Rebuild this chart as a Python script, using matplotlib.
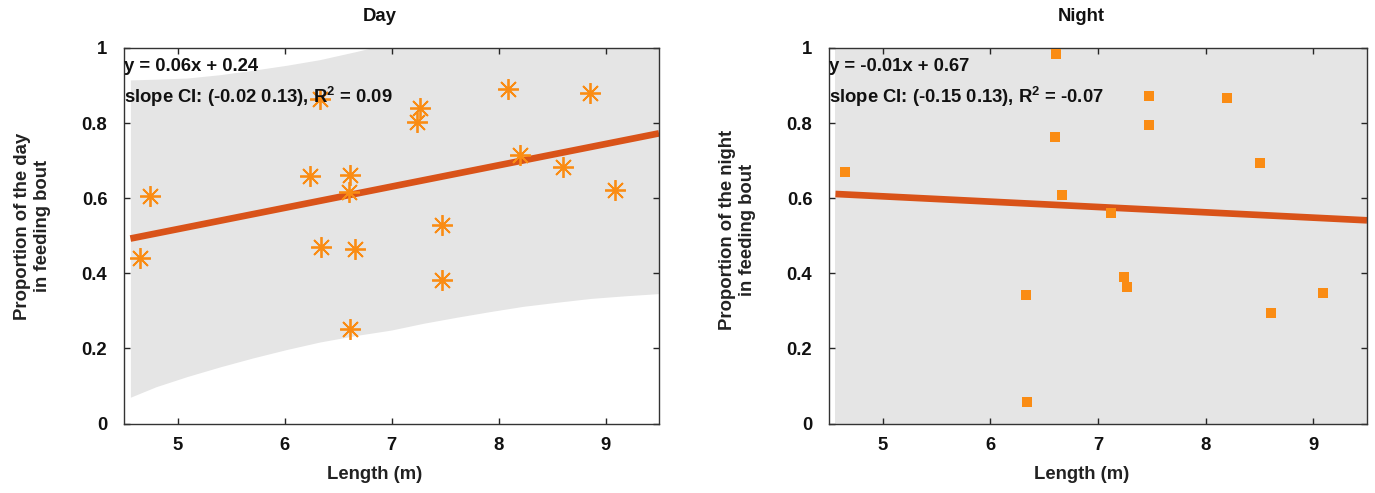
import matplotlib
matplotlib.use("Agg")
import matplotlib.pyplot as plt
import numpy as np

# ---------------- data ----------------
day_len = [4.645, 4.746, 6.236, 6.338, 6.330, 6.609, 6.601, 6.609, 6.662,
           7.240, 7.269, 7.471, 7.471, 8.091, 8.200, 8.606, 8.856, 9.091]
day_prop = [0.442, 0.607, 0.659, 0.471, 0.864, 0.663, 0.617, 0.251, 0.465,
            0.804, 0.839, 0.529, 0.382, 0.891, 0.716, 0.683, 0.880, 0.621]

night_len = [4.652, 6.611, 6.603, 6.664, 7.119, 6.334, 6.343, 7.243, 7.266,
             7.473, 7.473, 8.201, 8.506, 8.607, 9.091]
night_prop = [0.669, 0.985, 0.762, 0.608, 0.560, 0.343, 0.058, 0.390, 0.363,
              0.872, 0.795, 0.868, 0.694, 0.293, 0.348]

# fitted lines (slope, intercept) as drawn
day_fit = (0.0567, 0.234)
night_fit = (-0.0142, 0.676)

# confidence band edges
day_band_x = [4.56, 4.80, 5.09, 5.40, 5.71, 6.02, 6.33, 6.66, 7.00, 7.30,
              7.61, 7.92, 8.23, 8.55, 8.86, 9.18, 9.50]
day_band_lo = [0.070, 0.098, 0.125, 0.151, 0.175, 0.197, 0.217, 0.234, 0.249,
               0.267, 0.283, 0.298, 0.312, 0.323, 0.333, 0.340, 0.346]
day_band_hi = [0.915, 0.917, 0.920, 0.929, 0.941, 0.954, 0.969, 0.990, 1.013,
               1.030, 1.048, 1.068, 1.089, 1.114, 1.140, 1.170, 1.199]

night_band_x = [4.56, 9.50]
night_band_lo = [-0.5, -0.5]
night_band_hi = [1.5, 1.5]

titles = ["Day", "Night"]
ylabels = ["Proportion of the day\nin feeding bout",
           "Proportion of the night\nin feeding bout"]
eq_texts = ["y = 0.06x + 0.24", "y = -0.01x + 0.67"]
ci_texts = ["slope CI: (-0.02 0.13), R$^\\mathregular{2}$ = 0.09",
            "slope CI: (-0.15 0.13), R$^\\mathregular{2}$ = -0.07"]
xticks = [5, 6, 7, 8, 9]
yticks = [0, 0.2, 0.4, 0.6, 0.8, 1]
ytick_labels = ["0", "0.2", "0.4", "0.6", "0.8", "1"]

# ---------------- style ----------------
plt.rcParams['font.family'] = ['Liberation Sans', 'DejaVu Sans']
plt.rcParams['font.weight'] = 'bold'
plt.rcParams['mathtext.default'] = 'bf'
FS = 13.3

W, H = 1375, 493
fig = plt.figure(figsize=(W / 100, H / 100), dpi=100)

axes_px = [(124, 659), (829, 1367)]
top_px, bot_px = 48, 423.5

line_col = '#d95319'
mk_col = '#fa8c14'
band_col = '#e5e5e5'

def make_ax(i):
    l, r = axes_px[i]
    return fig.add_axes([l / W, 1 - bot_px / H, (r - l) / W, (bot_px - top_px) / H])

ax1 = make_ax(0)
ax2 = make_ax(1)

datasets = [
    (ax1, day_len, day_prop, day_fit, day_band_x, day_band_lo, day_band_hi,
     dict(marker=(8, 2, 0), markersize=15, markeredgewidth=1.3, color=mk_col,
          markeredgecolor=mk_col, linestyle='none')),
    (ax2, night_len, night_prop, night_fit, night_band_x, night_band_lo, night_band_hi,
     dict(marker='s', markersize=7.5, color=mk_col, markeredgecolor=mk_col,
          markeredgewidth=0, linestyle='none')),
]

title_x = [0.477, 0.468]
xlabel_x = [0.469, 0.470]
ylabel_pos = [(-0.171, 0.526), (-0.170, 0.515)]

for i, (ax, xs, ys, fit, bx, blo, bhi, mkw) in enumerate(datasets):
    ax.fill_between(bx, blo, bhi, color=band_col, linewidth=0, zorder=1)
    fx = np.array([bx[0], bx[-1]])
    ax.plot(fx, fit[0] * fx + fit[1], color=line_col, linewidth=4.8,
            solid_capstyle='butt', zorder=2)
    ax.plot(xs, ys, zorder=3, **mkw)

    ax.set_xlim(4.5, 9.5)
    ax.set_ylim(0, 1)
    ax.set_xticks(xticks)
    ax.set_xticklabels([str(t) for t in xticks])
    ax.set_yticks(yticks)
    ax.set_yticklabels(ytick_labels)
    ax.tick_params(direction='in', length=4, width=1, colors='#262626',
                   labelcolor='#111111', labelsize=FS, top=True, right=True)
    ax.tick_params(axis='x', pad=10)
    ax.tick_params(axis='y', pad=12)
    for lab in ax.get_xticklabels() + ax.get_yticklabels():
        lab.set_fontweight('bold')
    for sp in ax.spines.values():
        sp.set_color('#333333')
        sp.set_linewidth(1.0)

    ax.text(4.5, 0.940, eq_texts[i], fontsize=FS, fontweight='bold',
            ha='left', va='baseline', zorder=5, color='#111111')
    ax.text(4.5, 0.853, ci_texts[i], fontsize=FS, fontweight='bold',
            ha='left', va='baseline', zorder=5, color='#111111')

    ax.text(title_x[i], 1.0826, titles[i], transform=ax.transAxes,
            fontsize=FS, fontweight='bold', ha='center', va='center', color='#111111')
    ax.text(xlabel_x[i], -0.137, "Length (m)", transform=ax.transAxes,
            fontsize=FS, fontweight='bold', ha='center', va='center', color='#222222')
    ax.text(ylabel_pos[i][0], ylabel_pos[i][1], ylabels[i], transform=ax.transAxes,
            fontsize=FS, fontweight='bold', ha='center', va='center',
            rotation=90, multialignment='center', color='#222222',
            linespacing=1.2)

fig.savefig("out.png", dpi=100)
